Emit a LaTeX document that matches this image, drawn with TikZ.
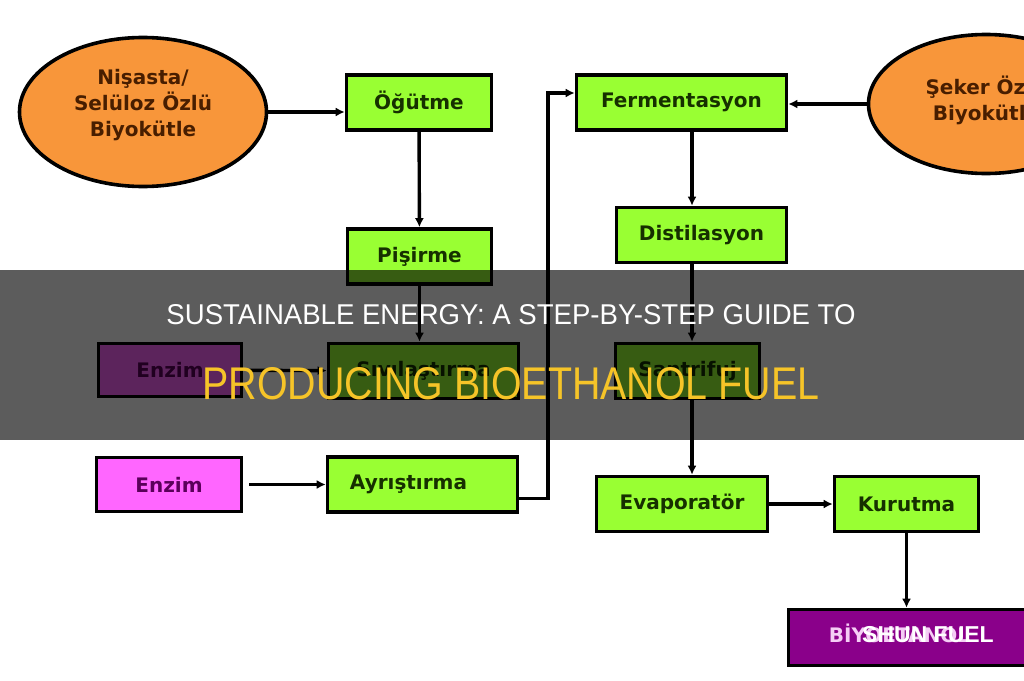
\documentclass[tikz,border=0pt]{standalone}
\usepackage{fontspec}
\setmainfont{DejaVu Sans}
\newfontfamily\headfont{Liberation Sans}
\usepackage{graphicx}
\usetikzlibrary{arrows.meta,shapes.geometric}
\definecolor{stepgreen}{RGB}{153,255,51}
\definecolor{stepink}{RGB}{22,48,0}
\definecolor{feedorange}{RGB}{248,150,58}
\definecolor{feedink}{RGB}{72,30,0}
\definecolor{enzpink}{RGB}{255,102,255}
\definecolor{enzink}{RGB}{90,0,90}
\definecolor{fuelpurple}{RGB}{138,0,138}
\definecolor{fuelink}{RGB}{245,205,245}
\definecolor{headgold}{RGB}{246,196,40}
\tikzset{
  flow/.style={-{Latex[length=9pt,width=9pt]}, line width=3.4pt},
  procbox/.style={draw, line width=3.6pt, fill=stepgreen, text=stepink,
    font=\bfseries\fontsize{20}{24}\selectfont, inner sep=0pt},
  enzbox/.style={procbox, fill=enzpink, text=enzink},
  feedstock/.style={ellipse, draw, line width=3.6pt, fill=feedorange, text=feedink,
    font=\bfseries\fontsize{20}{26}\selectfont, inner sep=0pt},
}

\begin{document}
\begin{tikzpicture}[x=1pt,y=-1pt]
  \clip (0,0) rectangle (1024,680);
  \fill[white] (0,0) rectangle (1024,680);

  \coordinate (riser) at (548,93);
  \coordinate (stem) at (692,0);

  % raw material
  \node[feedstock, minimum width=247pt, minimum height=149pt] (starch) at (143,112)
    {\raisebox{0pt}[\height][\dimexpr\depth+14pt]{\begin{tabular}{@{}c@{}}Nişasta/\\Selüloz Özlü\\Biyokütle\end{tabular}}};
  \node[feedstock, minimum width=235pt, minimum height=139pt] (sugar) at (986,104)
    {\raisebox{0pt}[\height][\dimexpr\depth+4pt]{\begin{tabular}{@{}c@{}}Şeker Özlü\\Biyokütle\end{tabular}}};

  % process steps
  \foreach \nm/\x/\y/\w/\txt in
  {
    grind/419/102.5/145/Öğütme,
    cook/419.5/256.5/144/Pişirme,
    liquefy/423.5/371/190/Sıvılaştırma,
    split/422.5/484.5/190/Ayrıştırma\hspace*{28pt},
    ferment/681.5/102.5/210/Fermentasyon,
    distil/701.5/235/170/Distilasyon,
    spin/687.5/371/144/Santrifuj,
    evap/682/504/171/Evaporatör,
    dry/906.5/504/144/Kurutma
  }
  {
    \node[procbox, minimum width=\w pt, minimum height=55pt] (\nm) at (\x,\y) {\txt};
  }

  \node[enzbox, minimum width=143pt, minimum height=53pt] (enzA) at (170,370) {Enzim};
  \node[enzbox, minimum width=145pt, minimum height=54pt] (enzB) at (169,484.5) {Enzim};
  \node[procbox, fill=fuelpurple, text=fuelink, minimum width=240pt, minimum height=56pt]
    (fuel) at (908.5,637.5) {\raisebox{0pt}[\height][\dimexpr\depth+9pt]{BİYOETANOL}\hspace*{18pt}};

  % connectors
  \draw[flow] (starch.east) -- (starch.east -| grind.west);
  \draw[flow] (grind) -- (cook);
  \draw[flow] (cook) -- (cook.south |- liquefy.north);
  \draw[flow, shorten <=6pt] (enzA) -- (liquefy);
  \draw[flow, shorten <=6pt] (enzB) -- (split);
  \draw[flow] ([yshift=-14pt]split.east) -| (riser) -- (riser -| ferment.west);
  \draw[flow] (sugar.west) -- (sugar.west -| ferment.east);
  \draw[flow] (ferment.south -| stem) -- (distil.north -| stem);
  \draw[flow] (distil.south -| stem) -- (spin.north -| stem);
  \draw[flow] (spin.south -| stem) -- (evap.north -| stem);
  \draw[flow] (evap) -- (dry);
  \draw[flow] (dry.south) -- (dry.south |- fuel.north);

  % banner
  \fill[black, opacity=0.64] (0,270) rectangle (1024,440);
  \node[inner sep=0pt, text=white] (head) at (511,315)
    {\resizebox{689pt}{20pt}{\headfont SUSTAINABLE ENERGY: A STEP-BY-STEP GUIDE TO}};
  \node[inner sep=0pt, text=headgold] (subhead) at (511,384)
    {\resizebox{617pt}{32pt}{\headfont PRODUCING BIOETHANOL FUEL}};

  \node[text=white, font=\headfont\bfseries\fontsize{23}{23}\selectfont] (mark) at (928,635)
    {SHUN FUEL};
\end{tikzpicture}
\end{document}
